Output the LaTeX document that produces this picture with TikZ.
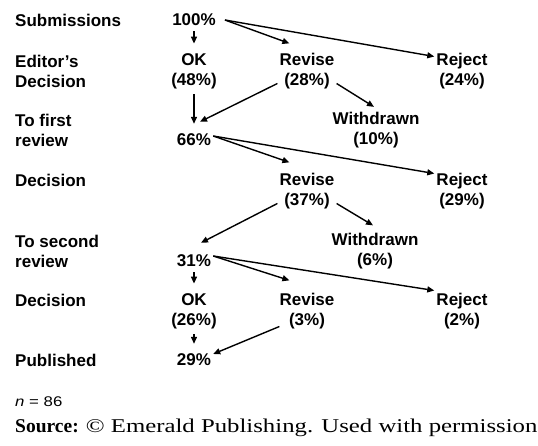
\documentclass[tikz,border=0pt]{standalone}
\usepackage{fontspec}
\setmainfont{Liberation Sans}
\newfontfamily\srcfont[FakeStretch=1.27]{Liberation Serif}
\newfontfamily\srcbold{Liberation Serif}
\newfontfamily\nfont[FakeStretch=1.2]{Liberation Sans}
\usetikzlibrary{arrows.meta, positioning}

\begin{document}
\begin{tikzpicture}[x=1pt, y=-1pt,
    lbl/.style={font=\fontsize{17}{20}\selectfont\bfseries, align=left,
                anchor=west, inner sep=2pt},
    val/.style={font=\fontsize{17}{20}\selectfont\bfseries, align=center,
                inner sep=2pt},
    flow/.style={-{Triangle[length=7pt,width=6pt]}, line width=1.4pt},
    tick/.style={flow, shorten <=3pt, shorten >=8pt},
  ]
    \useasboundingbox (0,0) rectangle (538,446);

    \node[lbl] (lsub) at (13,20) {Submissions};
    \node[lbl] (led) at (13,71.5) {Editor's\\Decision};
    \node[lbl] (lfirst) at (13,130) {To first\\review};
    \node[lbl] (ldec1) at (13,180) {Decision};
    \node[lbl] (lsecond) at (13,251.5) {To second\\review};
    \node[lbl] (ldec2) at (13,300) {Decision};
    \node[lbl] (lpub) at (13,360) {Published};

    \node[val] (sub) at (194,20) {100\%};
    \node[val] (ok1) at (194,71.5) {OK\\(48\%)};
    \node[val] (rev1) at (307,71.5) {Revise\\(28\%)};
    \node[val] (rej1) at (462,71.5) {Reject\\(24\%)};
    \node[val] (wd1) at (376,130) {Withdrawn\\(10\%)};
    \node[val] (fst) at (194,140) {66\%};
    \node[val] (rev2) at (307,191.5) {Revise\\(37\%)};
    \node[val] (rej2) at (462,191.5) {Reject\\(29\%)};
    \node[val] (wd2) at (375,251.5) {Withdrawn\\(6\%)};
    \node[val] (snd) at (194,261) {31\%};
    \node[val] (ok2) at (194,311.5) {OK\\(26\%)};
    \node[val] (rev3) at (307,311.5) {Revise\\(3\%)};
    \node[val] (rej3) at (462,311.5) {Reject\\(2\%)};
    \node[val] (pub) at (194,360) {29\%};

    \draw[tick] (sub) -- (ok1);
    \draw[tick] (ok1) -- (fst);
    \draw[tick] (snd) -- (ok2);
    \draw[tick] (ok2) -- (pub);

    \draw[flow] ([xshift=7pt]sub.east) -- ([xshift=12pt,yshift=8pt]rev1.north west);
    \draw[flow] ([xshift=7pt]sub.east) -- ([yshift=15pt]rej1.west);
    \draw[flow] ([yshift=-12pt]rev1.west) -- ([xshift=6pt,yshift=10pt]fst.north);
    \draw[flow] ([yshift=-12pt]rev1.east) -- ([xshift=-2pt,yshift=3pt]wd1.north);

    \draw[flow] ([yshift=4pt]fst.east) -- ([xshift=12pt,yshift=9pt]rev2.north west);
    \draw[flow] ([yshift=4pt]fst.east) -- ([yshift=18pt]rej2.west);
    \draw[flow] ([yshift=-12pt]rev2.west) -- ([xshift=7pt,yshift=10pt]snd.north);
    \draw[flow] ([yshift=-12pt]rev2.east) -- ([xshift=-2pt,yshift=6pt]wd2.north);

    \draw[flow] ([yshift=5pt]snd.east) -- ([xshift=12pt,yshift=11pt]rev3.north west);
    \draw[flow] ([yshift=5pt]snd.east) -- ([yshift=21pt]rej3.west);
    \draw[flow] ([xshift=2pt,yshift=-15pt]rev3.west) -- ([yshift=6pt]pub.east);

    \node[anchor=west, inner sep=0pt, font=\nfont\fontsize{14}{16}\selectfont]
      (nobs) at (15,402) {\textit{n} = 86};
    \node[anchor=west, inner sep=0pt, font=\fontsize{19.5}{22}\selectfont]
      (src) at (15,428) {{\srcbold\bfseries Source:} {\srcfont © Emerald Publishing. Used with permission}};
  \end{tikzpicture}
\end{document}
